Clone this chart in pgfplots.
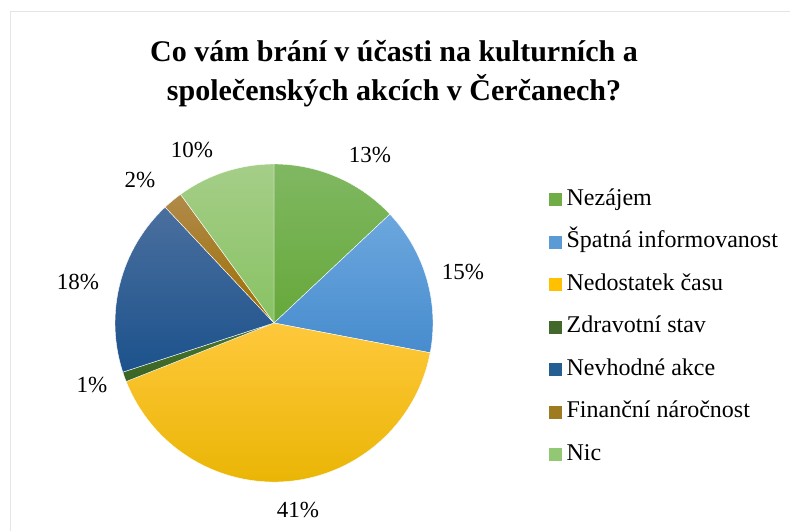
\documentclass[border=0pt]{standalone}
\usepackage{pgfplots}
\pgfplotsset{compat=1.18}
\usepackage{pgfplotstable}
\usepackage{fontspec}
\setmainfont{Liberation Serif}

\definecolor{cNezT}{HTML}{80B862}\definecolor{cNezB}{HTML}{66A83A}\definecolor{cNez}{HTML}{70AD47}
\definecolor{cSpaT}{HTML}{6CA7DE}\definecolor{cSpaB}{HTML}{478CCE}\definecolor{cSpa}{HTML}{5B9BD5}
\definecolor{cNedT}{HTML}{FFC83C}\definecolor{cNedB}{HTML}{E8B400}\definecolor{cNed}{HTML}{FFC000}
\definecolor{cZdrT}{HTML}{4A7531}\definecolor{cZdrB}{HTML}{3B6424}\definecolor{cZdr}{HTML}{43682B}
\definecolor{cNevT}{HTML}{4A6F9E}\definecolor{cNevB}{HTML}{1C528C}\definecolor{cNev}{HTML}{255E91}
\definecolor{cFinT}{HTML}{B08A4A}\definecolor{cFinB}{HTML}{9E6E00}\definecolor{cFin}{HTML}{9E7A20}
\definecolor{cNicT}{HTML}{A5CE88}\definecolor{cNicB}{HTML}{88C263}\definecolor{cNic}{HTML}{92C774}

\pgfplotstableread{
idx value
0 13
1 15
2 41
3 1
4 18
5 2
6 10
}\piedata

\def\SA#1{\csname sa#1\endcsname}
\def\EA#1{\csname ea#1\endcsname}
\newcommand\slice[3]{%
  \path[top color=#2, bottom color=#3, draw=white, line width=0.4bp]
    (axis cs:0,0) -- (axis cs:{cos(\SA{#1})},{sin(\SA{#1})})
    arc[start angle=\SA{#1}, end angle=\EA{#1}, radius=159bp] -- cycle;}
\newcommand\legsq[1]{\addlegendimage{legend image code/.code={\fill[#1] (0bp,-6bp) rectangle (12bp,6bp);}}}

\begin{document}
\begin{tikzpicture}
\useasboundingbox (0,0) rectangle (790bp,531bp);
\draw[color=black!10, line width=0.8bp] (10bp,520bp) -- (790bp,520bp);
\draw[color=black!10, line width=0.8bp] (10bp,520bp) -- (10bp,0bp);

\xdef\cum{90}
\foreach \i in {0,...,6}{%
  \pgfplotstablegetelem{\i}{value}\of\piedata
  \pgfmathsetmacro\stop{\cum-3.6*\pgfplotsretval}%
  \expandafter\xdef\csname sa\i\endcsname{\cum}%
  \expandafter\xdef\csname ea\i\endcsname{\stop}%
  \xdef\cum{\stop}%
}

\node[anchor=base, font=\bfseries\fontsize{30bp}{36bp}\selectfont] at (394bp,469bp) {Co vám brání v účasti na kulturních a};
\node[anchor=base, font=\bfseries\fontsize{30bp}{36bp}\selectfont] at (394bp,430bp) {společenských akcích v Čerčanech?};

\begin{axis}[
  at={(274bp,208bp)}, anchor=center,
  x=159bp, y=159bp,
  xmin=-1, xmax=1, ymin=-1, ymax=1,
  hide axis, clip=false,
  legend cell align=left,
  legend style={at={(1.3648,0.9245)}, anchor=north west, draw=none, fill=none,
    inner sep=0pt, row sep=20.5bp, font=\fontsize{24bp}{28bp}\selectfont,
    nodes={inner sep=0pt, text height=17bp, text depth=5bp},
    /tikz/every odd column/.append style={column sep=5bp}},
]
\slice{0}{cNezT}{cNezB}
\slice{1}{cSpaT}{cSpaB}
\slice{2}{cNedT}{cNedB}
\slice{3}{cZdrT}{cZdrB}
\slice{4}{cNevT}{cNevB}
\slice{5}{cFinT}{cFinB}
\slice{6}{cNicT}{cNicB}

\begin{scope}[every node/.style={font=\fontsize{23bp}{27bp}\selectfont}]
\node at (axis cs:0.604,1.057) {13\%};
\node at (axis cs:1.189,0.321) {15\%};
\node at (axis cs:0.151,-1.176) {41\%};
\node at (axis cs:-1.145,-0.390) {1\%};
\node at (axis cs:-1.233,0.258) {18\%};
\node at (axis cs:-0.843,0.899) {2\%};
\node at (axis cs:-0.516,1.088) {10\%};
\end{scope}

\legsq{cNez}\addlegendentry{Nezájem}
\legsq{cSpa}\addlegendentry{Špatná informovanost}
\legsq{cNed}\addlegendentry{Nedostatek času}
\legsq{cZdr}\addlegendentry{Zdravotní stav}
\legsq{cNev}\addlegendentry{Nevhodné akce}
\legsq{cFin}\addlegendentry{Finanční náročnost}
\legsq{cNic}\addlegendentry{Nic}
\end{axis}
\end{tikzpicture}
\end{document}
